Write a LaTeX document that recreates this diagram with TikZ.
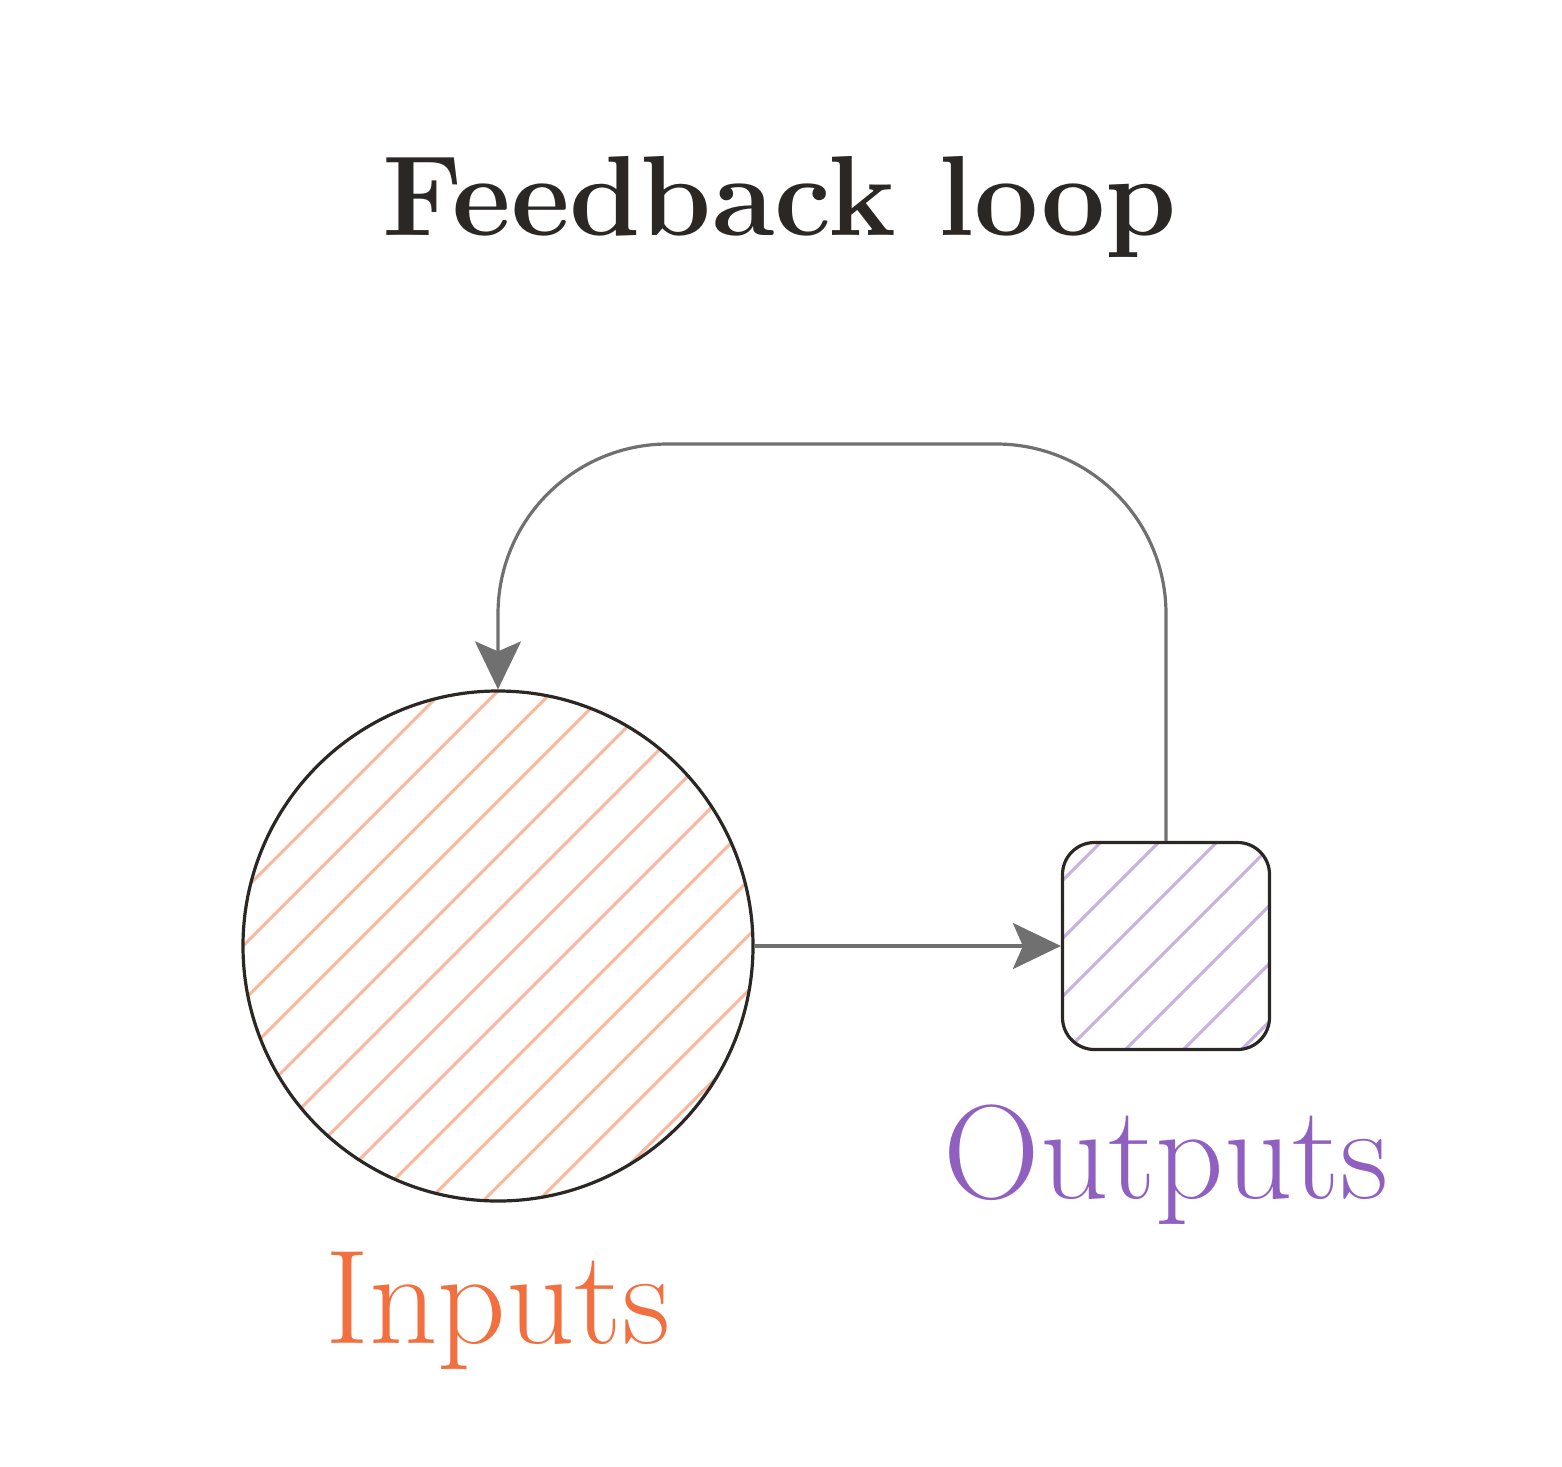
\documentclass[tikz,border=0pt]{standalone}
\usetikzlibrary{calc,arrows.meta}
\definecolor{ink}{HTML}{2B2724}
\definecolor{gry}{HTML}{707070}
\definecolor{org}{HTML}{F2703F}
\definecolor{orgl}{HTML}{F9B89C}
\definecolor{pur}{HTML}{9060C0}
\definecolor{purl}{HTML}{C9B0DE}
\tikzset{
  shapeout/.style={draw=ink,line width=1.6pt},
  hatchorg/.style={path picture={\foreach \i in {-10,...,10}{\draw[orgl,line width=1.5pt] ($(path picture bounding box.center)+(\i*55+20,0)+(-400,400)$) -- +(800,-800);}}},
  hatchpur/.style={path picture={\foreach \i in {-5,...,5}{\draw[purl,line width=1.5pt] ($(path picture bounding box.center)+(\i*58+5,0)+(-300,300)$) -- +(600,-600);}}},
  conn/.style={draw=gry,line width=1.6pt,-{Stealth[length=24pt,width=23pt,inset=5pt]}}
}
\begin{document}
\begin{tikzpicture}[x=0.5pt,y=-0.5pt]
\useasboundingbox (0,0) rectangle (1562,1466);
\node[font=\fontsize{57}{64}\selectfont\bfseries,text=ink,anchor=base] (title) at (780,235) {Feedback loop};
\node[circle,shapeout,hatchorg,minimum size=255pt,inner sep=0pt] (in) at (498,946) {};
\node[rectangle,rounded corners=16pt,shapeout,hatchpur,minimum size=103.5pt,inner sep=0pt] (out) at (1166,946) {};
\node[font=\fontsize{67}{74}\selectfont,text=org,anchor=base] (lin) at (498,1343) {Inputs};
\node[font=\fontsize{67}{74}\selectfont,text=pur,anchor=base] (lout) at (1166,1198) {Outputs};
\draw[conn] (in.east) -- (out.west);
\draw[conn,rounded corners=85pt] (out.north) -- (1166,444) -- (498,444) -- (in.north);
\end{tikzpicture}
\end{document}
